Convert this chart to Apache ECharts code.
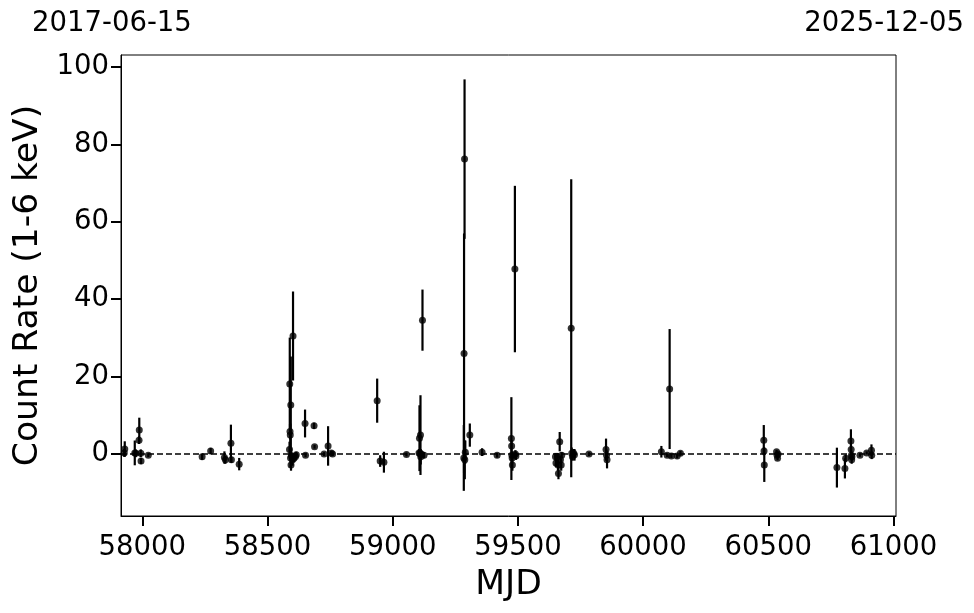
<!DOCTYPE html>
<html>
<head>
<meta charset="utf-8">
<script src="https://cdn.jsdelivr.net/npm/echarts@6/dist/echarts.min.js"></script>
<style>html,body{margin:0;padding:0;background:#fff}#c{width:974px;height:613px}</style>
</head>
<body>
<div id="c"></div>
<script>
// Observations: MJD, count rate (1-6 keV) and symmetric 1-sigma error
const mjd = [57928,57930,57970,57974,57987,57988,57994,57995,58024,
  58239,58273,58328,58332,58354,58356,58387,
  58588,58589,58590,58591,58592,58593,58594,58596,58600,58602,58606,58612,58615,
  58650,58652,58686,58688,58726,58742,58755,58760,
  58938,58950,58965,59055,59105,59107,59109,59111,59112,59114,59119,59125,
  59284,59285,59287,59288,59290,59308,59357,59417,
  59474,59475,59476,59477,59478,59488,59490,59492,
  59650,59652,59658,59660,59662,59667,59670,59673,59675,
  59713,59715,59718,59722,59726,59784,59852,59854,59856,
  60073,60096,60106,60113,60136,60149,
  60482,60483,60484,60533,60535,60537,60539,
  60774,60806,60809,60830,60831,60832,60833,60834,60866,60893,60912,60913];
const rate = [0.3,1.3,0.3,0.2,3.6,6.2,0.2,-1.8,-0.3,
  -0.7,0.8,-0.9,-1.5,2.8,-1.5,-2.6,
  1.2,18.1,5.8,4.9,-1.0,12.7,-2.8,-0.5,-1.5,30.5,-1.1,-0.6,-0.2,
  7.9,-0.3,7.3,1.9,0.0,2.1,0.3,0.0,
  13.8,-1.8,-2.1,-0.1,0.3,4.1,0.2,4.9,-0.7,0.0,34.6,-0.3,
  -1.0,26.0,76.2,-1.5,0.5,4.9,0.5,-0.3,
  4.0,2.1,-0.3,-1.0,-2.8,47.8,0.0,-0.5,
  -0.7,-2.3,-0.7,-2.8,-5.0,3.2,-1.5,-2.8,-0.3,
  32.5,0.2,-0.7,0.3,-0.2,0.0,1.2,-0.3,-1.5,
  0.6,-0.3,16.8,-0.5,-0.5,0.2,
  3.6,0.8,-2.8,0.6,-0.3,-1.1,0.0,
  -3.5,-3.7,-1.1,3.4,1.2,-0.3,-1.5,-0.7,-0.3,0.3,1.0,-0.3];
const err = [1.0,2.0,3.2,1.0,1.0,3.2,1.0,0.8,0.5,
  0.8,0.8,1.6,1.0,4.8,0.8,1.6,
  2.0,12.0,2.0,3.0,2.5,12.5,1.5,1.0,1.5,11.5,1.0,1.0,0.8,
  3.6,0.5,0.8,0.5,0.5,5.1,0.6,0.5,
  5.7,1.5,2.7,0.5,1.0,8.5,1.0,10.3,2.0,1.0,7.9,0.8,
  8.5,31.0,20.6,5.0,3.0,3.0,1.0,0.6,
  10.7,1.5,1.0,1.5,1.5,21.5,1.0,1.0,
  1.0,1.0,1.0,1.5,1.5,2.5,1.0,1.5,0.8,
  38.5,1.5,1.0,1.0,1.5,0.5,2.8,1.5,2.2,
  1.5,0.5,15.5,0.5,0.6,0.6,
  3.9,1.0,4.4,0.5,0.5,0.5,0.5,
  5.15,2.6,1.0,3.0,1.0,1.0,1.0,1.0,0.4,0.4,1.5,1.0];
const xTicks = [58000,58500,59000,59500,60000,60500,61000];
const yTicks = [0,20,40,60,80,100];
const dateLeft = '2017-06-15';
const dateRight = '2025-12-05';

const pts = mjd.map((m,i)=>[m, rate[i]]);
const bars = mjd.map((m,i)=>[m, rate[i]-err[i], rate[i]+err[i]]);
const FONT = 'DejaVu Sans';

const chart = echarts.init(document.getElementById('c'), null, {renderer:'canvas'});
chart.setOption({
  animation:false,
  backgroundColor:'#fff',
  grid:{left:121, right:78, top:55, bottom:97, show:true, borderColor:'#000', borderWidth:1, backgroundColor:'transparent'},
  xAxis:{type:'value', min:57915, max:61010, name:'MJD', nameLocation:'middle', nameGap:52,
    nameTextStyle:{fontFamily:FONT, fontSize:34.5, color:'#000'},
    axisLine:{show:true, onZero:false, lineStyle:{color:'#000', width:1}},
    axisTick:{show:true, length:10, lineStyle:{color:'#000', width:2}, customValues:xTicks},
    axisLabel:{fontFamily:FONT, fontSize:27.5, color:'#000', margin:18, customValues:xTicks,
      formatter:function(v){return String(v);}},
    splitLine:{show:false}},
  yAxis:{type:'value', min:-16, max:103.1, name:'Count Rate (1-6 keV)', nameLocation:'middle', nameGap:73,
    nameTextStyle:{fontFamily:FONT, fontSize:34.5, color:'#000'},
    axisLine:{show:true, onZero:false, lineStyle:{color:'#000', width:1}},
    axisTick:{show:true, length:10, lineStyle:{color:'#000', width:2}, customValues:yTicks},
    axisLabel:{fontFamily:FONT, fontSize:27.5, color:'#000', margin:12, customValues:yTicks,
      formatter:function(v){return String(v);}},
    splitLine:{show:false}},
  graphic:[
    {type:'text', left:32, top:10, style:{text:dateLeft, font:'27.5px "DejaVu Sans"', fill:'#000'}},
    {type:'text', right:10, top:10, style:{text:dateRight, font:'27.5px "DejaVu Sans"', fill:'#000'}}
  ],
  series:[
    {type:'custom', data:bars, z:2, clip:true,
      renderItem:function(params, api){
        const a = api.coord([api.value(0), api.value(1)]);
        const b = api.coord([api.value(0), api.value(2)]);
        return {type:'line', shape:{x1:a[0], y1:a[1], x2:b[0], y2:b[1]}, style:{stroke:'#000', lineWidth:2.2}};
      }},
    {type:'scatter', data:pts, symbol:'circle', symbolSize:7, z:3,
      itemStyle:{color:'#000'},
      markLine:{silent:true, symbol:'none', label:{show:false},
        lineStyle:{color:'#000', type:[6,3], width:1.5}, data:[{yAxis:0}]}}
  ]
});
</script>
</body>
</html>
